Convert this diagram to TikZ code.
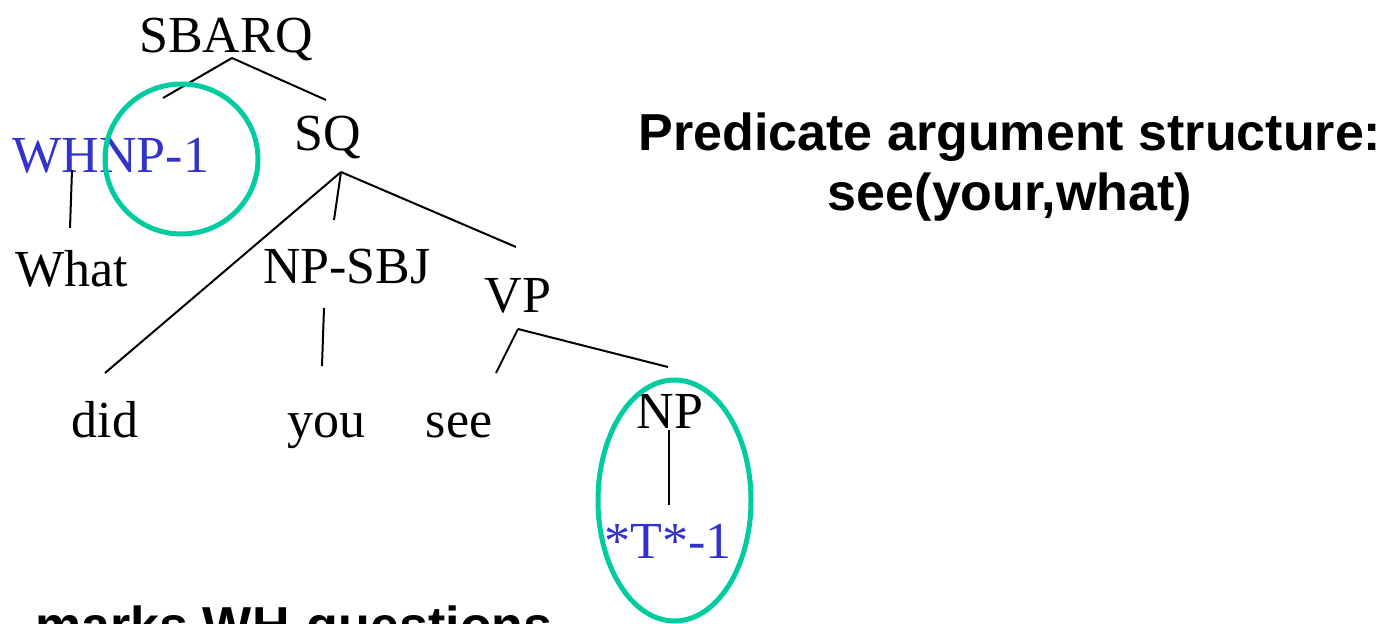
\documentclass[tikz,border=0pt]{standalone}
\usepackage{fontspec}
\setmainfont{Liberation Serif}
\setsansfont{Liberation Sans}
\usetikzlibrary{calc}
\definecolor{TraceBlue}{RGB}{51,51,204}
\definecolor{MarkTeal}{RGB}{0,204,160}
\tikzset{
  cat/.style={font=\fontsize{26}{31}\selectfont,inner sep=0pt,anchor=base},
  trace/.style={cat,text=TraceBlue},
  branch/.style={line width=1pt},
  hilite/.style={MarkTeal,line width=2.5pt},
  caption/.style={font=\sffamily\bfseries\fontsize{26}{31}\selectfont,inner sep=0pt,anchor=base}
}
\begin{document}
\begin{tikzpicture}[x=0.5pt,y=0.5pt]
    \useasboundingbox (0,0) rectangle (1393,623);
        % Tree labels
        \node[cat] (sbarq) at (226,571) {SBARQ};
        \node[trace] (whnp) at (111,451) {WHNP-1};
        \node[cat] (sq) at (328,473) {SQ};
        \node[cat] (what) at (72,337) {What};
        \node[cat] (npsbj) at (347,340) {NP-SBJ};
        \node[cat] (vp) at (518,311) {VP};
        \node[cat] (did) at (105,186) {did};
        \node[cat] (you) at (326,186) {you};
        \node[cat] (see) at (459,186) {see};
        \node[cat] (np) at (670,195) {NP};
        \node[trace] (tr) at (668,65) {*T*-1};
        % Branch points
        \coordinate (sbarq-fork) at ($(sbarq.base)+(6,-6)$);
        \coordinate (sq-fork) at ($(sq.base)+(13,-22)$);
        \coordinate (vp-fork) at ($(vp.base)+(0,-17)$);
        % Branches
        \draw[branch] (sbarq-fork) -- ($(whnp.base)+(52,74)$);
        \draw[branch] (sbarq-fork) -- ($(sq.base)+(-2,50)$);
        \draw[branch] ($(whnp.base)+(-39,2)$) -- ($(what.base)+(-2,58)$);
        \draw[branch] (sq-fork) -- ($(did.base)+(0,64)$);
        \draw[branch] (sq-fork) -- ($(npsbj.base)+(-13,63)$);
        \draw[branch] (sq-fork) -- ($(vp.base)+(-2,65)$);
        \draw[branch] ($(npsbj.base)+(-23,-25)$) -- ($(you.base)+(-4,71)$);
        \draw[branch] (vp-fork) -- ($(see.base)+(37,64)$);
        \draw[branch] (vp-fork) -- ($(np.base)+(-2,61)$);
        \draw[branch] ($(np.base)+(-1,-2)$) -- ($(tr.base)+(1,53)$);
        % Highlights (moved constituent and its trace)
        \draw[hilite] (181.5,464) ellipse [x radius=38.25pt,y radius=37.5pt];
        \draw[hilite] (674.5,122.5) ellipse [x radius=38.25pt,y radius=60.25pt];
        % Captions
        \node[caption] (pred) at (1010,473) {Predicate argument structure:};
        \node[caption] (args) at ($(pred.base)+(0,-60)$) {see(your,what)};
        \node[caption,anchor=base west] (marks) at (35,-20) {marks WH-questions};
    \end{tikzpicture}
\end{document}
